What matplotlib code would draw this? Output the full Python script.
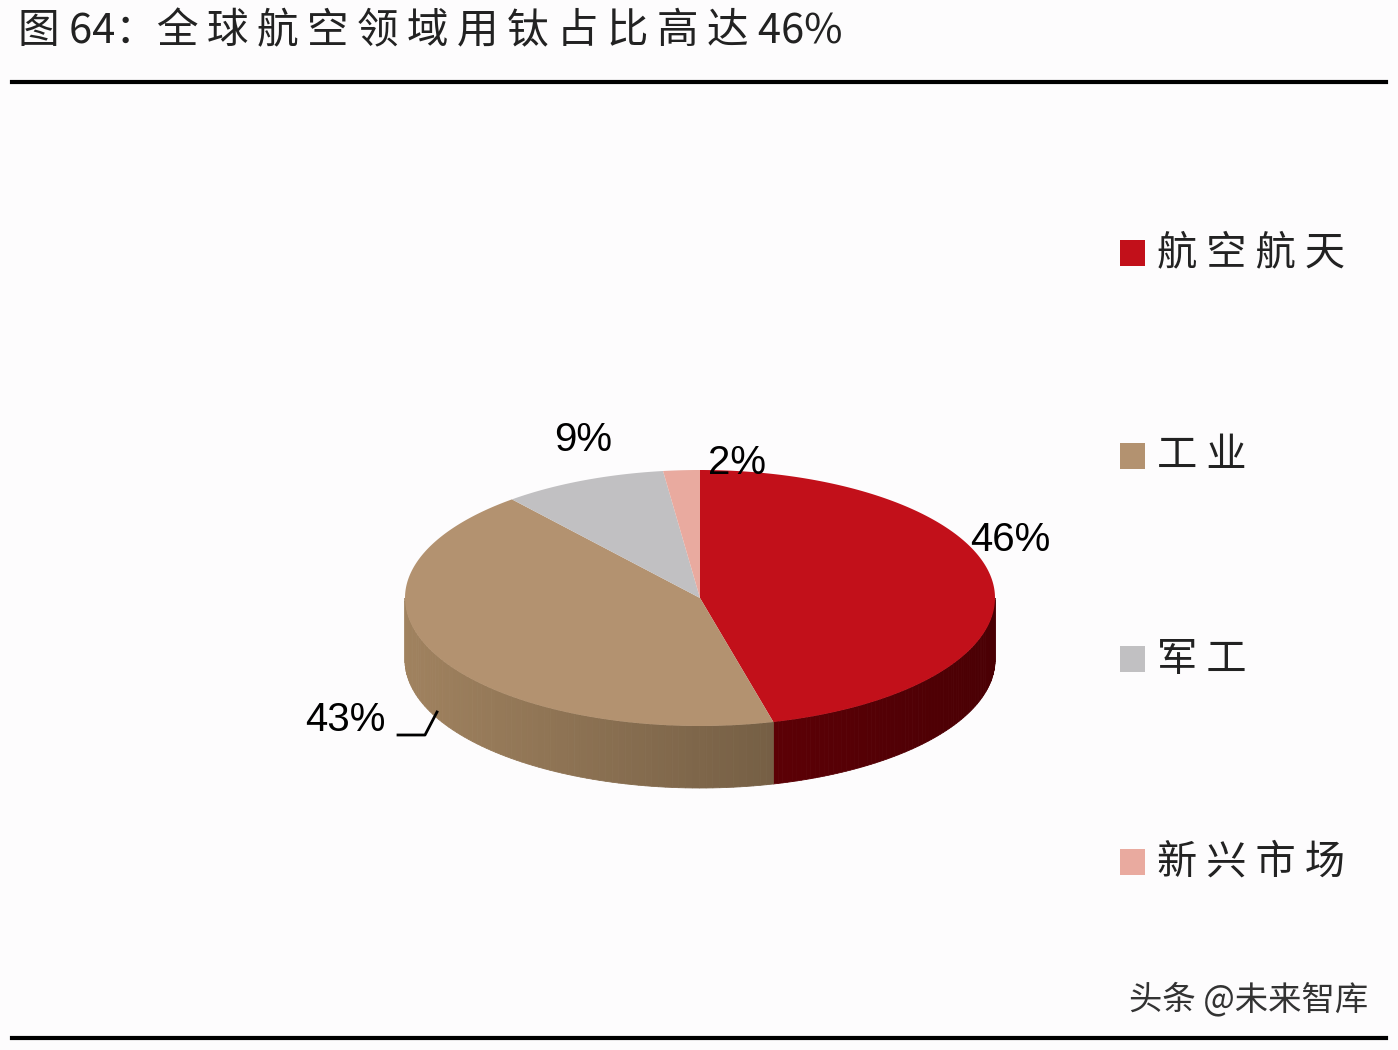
import numpy as np
import matplotlib.pyplot as plt
from matplotlib.patches import Polygon, Rectangle
import matplotlib.colors as mc

plt.rcParams['font.family'] = ['Noto Sans CJK SC', 'DejaVu Sans']

categories = ['航空航天', '工业', '军工', '新兴市场']
shares = [46, 43, 9, 2]
labels = ['46%', '43%', '9%', '2%']
top_colors = ['#C2101A', '#B39270', '#C1C0C2', '#E9AA9F']
side_dark = ['#4A0004', '#5C4A35', '#8a8a8a', '#b07a70']
side_light = ['#7A0008', '#A0825F', '#b0b0b0', '#d89a90']

fig = plt.figure(figsize=(13.98, 10.5), dpi=100)
ax = fig.add_axes([0, 0, 1, 1])
ax.set_xlim(0, 1398)
ax.set_ylim(1050, 0)
ax.axis('off')
fig.patch.set_facecolor('#FDFCFD')

cx, cy, rx, ry, depth = 700, 598, 295, 128, 62

def pt(t):
    return cx + rx * np.cos(np.radians(t)), cy - ry * np.sin(np.radians(t))

# wedge angles, clockwise from top
bounds = 90 - np.concatenate([[0], np.cumsum(shares)]) * 3.6

# side walls (visible lower half, theta in [-180, 0])
for i in range(len(shares)):
    a0, a1 = bounds[i + 1], bounds[i]
    lo, hi = max(a0, -180), min(a1, 0)
    if lo >= hi:
        continue
    steps = np.linspace(lo, hi, 80)
    c0 = np.array(mc.to_rgb(side_light[i]))
    c1 = np.array(mc.to_rgb(side_dark[i]))
    for k in range(len(steps) - 1):
        t0, t1 = steps[k], steps[k + 1]
        x0, y0 = pt(t0)
        x1, y1 = pt(t1)
        f = (np.cos(np.radians((t0 + t1) / 2)) + 1) / 2
        col = c0 * (1 - f) + c1 * f
        ax.add_patch(Polygon([(x0, y0), (x1, y1), (x1, y1 + depth), (x0, y0 + depth)],
                             closed=True, fc=col, ec=col, lw=0.6))

# top faces
for i in range(len(shares)):
    ts = np.linspace(bounds[i], bounds[i + 1], 200)
    xs, ys = pt(ts)
    poly = [(cx, cy)] + list(zip(xs, ys))
    ax.add_patch(Polygon(poly, closed=True, fc=top_colors[i], ec='none'))

# percentage labels
lab_pos = [(1010, 540), (345, 720), (583, 440), (737, 463)]
for (x, y), s in zip(lab_pos, labels):
    ax.text(x, y, s, fontsize=29, ha='center', va='center', family=['Liberation Sans', 'DejaVu Sans'])
ax.plot([398, 425, 437], [735, 735, 712], color='black', lw=2)

# legend
for j, (name, col) in enumerate(zip(categories, top_colors)):
    y = 253 + j * 203
    ax.add_patch(Rectangle((1120, y - 13), 25, 26, fc=col, ec='none'))
    ax.text(1157, y, ' '.join(name), fontsize=29, va='center', ha='left', color='#222222')

# title and rules
ax.text(18, 32, '图 64：' + '\u2009'.join('全球航空领域用钛占比高达') + ' 46%',
        fontsize=30, va='center', ha='left', color='#222222')
ax.plot([12, 1386], [82, 82], color='black', lw=3)
ax.plot([12, 1386], [1038, 1038], color='black', lw=3)
ax.text(1368, 1000, '头条 @未来智库', fontsize=24, va='center', ha='right', color='#333333')

fig.savefig('out.png', dpi=100, facecolor=fig.get_facecolor())
